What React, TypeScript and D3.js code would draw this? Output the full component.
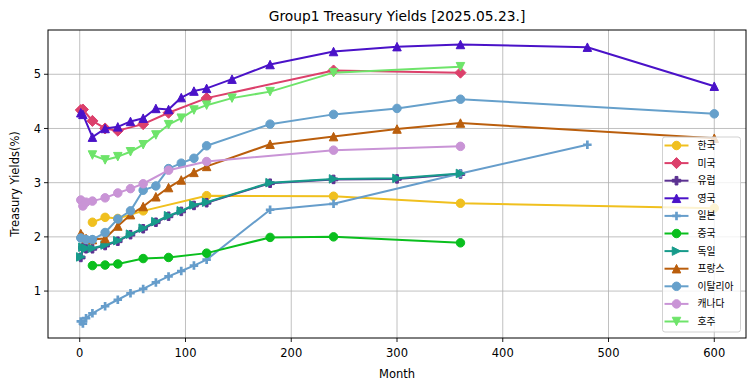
import React from "react";
import * as d3 from "d3";

// figure size and plot box (px)
const W = 755;
const H = 391;
const margin = { top: 30, right: 9, bottom: 53, left: 48 };

// ---- data: maturities in months, yields in % ----
const koreaMonths = [12, 24, 36, 60, 120, 240, 360, 600];
const koreaYields = [2.27, 2.36, 2.34, 2.48, 2.76, 2.75, 2.62, 2.53];

const usMonths = [1, 3, 12, 24, 36, 60, 84, 120, 240, 360];
const usYields = [4.34, 4.35, 4.14, 4.0, 3.96, 4.08, 4.29, 4.56, 5.07, 5.03];

const euMonths = [1, 3, 6, 12, 24, 36, 48, 60, 72, 84, 96, 108, 120, 180, 240, 300, 360];
const euYields = [1.62, 1.8, 1.78, 1.78, 1.84, 1.92, 2.04, 2.15, 2.27, 2.38, 2.47, 2.58, 2.63, 2.99, 3.06, 3.07, 3.16];

const ukMonths = [1, 3, 12, 24, 36, 48, 60, 72, 84, 96, 108, 120, 144, 180, 240, 300, 360, 480, 600];
const ukYields = [4.29, 4.26, 3.84, 4.0, 4.03, 4.13, 4.19, 4.37, 4.35, 4.57, 4.69, 4.74, 4.91, 5.18, 5.42, 5.51, 5.55, 5.5, 4.78];

const japanMonths = [1, 3, 6, 12, 24, 36, 48, 60, 72, 84, 96, 108, 120, 180, 240, 360, 480];
const japanYields = [0.44, 0.4, 0.5, 0.59, 0.72, 0.84, 0.96, 1.04, 1.16, 1.27, 1.37, 1.47, 1.58, 2.5, 2.61, 3.17, 3.7];

const chinaMonths = [12, 24, 36, 60, 84, 120, 180, 240, 360];
const chinaYields = [1.47, 1.48, 1.5, 1.6, 1.62, 1.7, 1.99, 2.0, 1.89];

const germanyMonths = [1, 3, 6, 12, 24, 36, 48, 60, 72, 84, 96, 108, 120, 180, 240, 300, 360];
const germanyYields = [1.63, 1.81, 1.79, 1.79, 1.85, 1.93, 2.05, 2.16, 2.28, 2.39, 2.48, 2.59, 2.64, 3.0, 3.07, 3.08, 3.17];

const franceMonths = [1, 3, 6, 12, 24, 36, 48, 60, 72, 84, 96, 108, 120, 180, 240, 300, 360, 600];
const franceYields = [2.06, 2.0, 1.97, 1.95, 1.97, 2.2, 2.41, 2.56, 2.74, 2.91, 3.05, 3.19, 3.3, 3.71, 3.85, 3.99, 4.1, 3.82];

const italyMonths = [1, 6, 12, 24, 36, 48, 60, 72, 84, 96, 108, 120, 180, 240, 300, 360, 600];
const italyYields = [1.98, 1.95, 1.95, 2.08, 2.33, 2.48, 2.86, 2.94, 3.26, 3.36, 3.45, 3.68, 4.08, 4.26, 4.37, 4.54, 4.27];

const canadaMonths = [1, 3, 6, 12, 24, 36, 48, 60, 84, 120, 240, 360];
const canadaYields = [2.68, 2.57, 2.64, 2.66, 2.72, 2.81, 2.89, 2.98, 3.23, 3.39, 3.6, 3.67];

const australiaMonths = [12, 24, 36, 48, 60, 72, 84, 96, 108, 120, 144, 180, 240, 360];
const australiaYields = [3.51, 3.42, 3.48, 3.57, 3.7, 3.88, 4.07, 4.19, 4.34, 4.43, 4.56, 4.68, 5.03, 5.14];

const xTicks = [0, 100, 200, 300, 400, 500, 600];
const yTicks = [1, 2, 3, 4, 5];

const series = [
  { name: "한국", months: koreaMonths, values: koreaYields, color: "#f0c01f", marker: "o" },
  { name: "미국", months: usMonths, values: usYields, color: "#dc406b", marker: "D" },
  { name: "유럽", months: euMonths, values: euYields, color: "#5b3191", marker: "P" },
  { name: "영국", months: ukMonths, values: ukYields, color: "#4a12c8", marker: "^" },
  { name: "일본", months: japanMonths, values: japanYields, color: "#669dcb", marker: "+" },
  { name: "중국", months: chinaMonths, values: chinaYields, color: "#0abf1e", marker: "o" },
  { name: "독일", months: germanyMonths, values: germanyYields, color: "#179b8b", marker: ">" },
  { name: "프랑스", months: franceMonths, values: franceYields, color: "#ba5e0c", marker: "^" },
  { name: "이탈리아", months: italyMonths, values: italyYields, color: "#66a0cb", marker: "o" },
  { name: "캐나다", months: canadaMonths, values: canadaYields, color: "#c994d6", marker: "o" },
  { name: "호주", months: australiaMonths, values: australiaYields, color: "#6ee46a", marker: "v" },
];

const FONT = "'DejaVu Sans', 'Noto Sans CJK KR', sans-serif";
const MS = 8.5; // marker size px

function Marker({ type, color, x, y }: { type: string; color: string; x: number; y: number }) {
  const h = MS / 2;
  const common = { fill: color, stroke: color, strokeWidth: 1 };
  if (type === "o") return <circle cx={x} cy={y} r={h} {...common} />;
  if (type === "D") {
    const d = h * 1.3;
    return <path d={`M${x},${y - d}L${x + d},${y}L${x},${y + d}L${x - d},${y}Z`} {...common} />;
  }
  if (type === "^")
    return <path d={`M${x},${y - h}L${x + h},${y + h}L${x - h},${y + h}Z`} {...common} />;
  if (type === "v")
    return <path d={`M${x},${y + h}L${x + h},${y - h}L${x - h},${y - h}Z`} {...common} />;
  if (type === ">")
    return <path d={`M${x + h},${y}L${x - h},${y - h}L${x - h},${y + h}Z`} {...common} />;
  if (type === "P") {
    const a = h / 3;
    const p = [
      [-a, -h], [a, -h], [a, -a], [h, -a], [h, a], [a, a],
      [a, h], [-a, h], [-a, a], [-h, a], [-h, -a], [-a, -a],
    ];
    return <path d={"M" + p.map(([dx, dy]) => `${x + dx},${y + dy}`).join("L") + "Z"} {...common} />;
  }
  // "+"
  return (
    <path
      d={`M${x - h},${y}L${x + h},${y}M${x},${y - h}L${x},${y + h}`}
      stroke={color}
      strokeWidth={2.7}
      fill="none"
    />
  );
}

export default function App() {
  const x = d3
    .scaleLinear()
    .domain([-30, 630])
    .range([margin.left, W - margin.right]);
  const y = d3
    .scaleLinear()
    .domain([0.134, 5.817])
    .range([H - margin.bottom, margin.top]);

  const line = d3
    .line<[number, number]>()
    .x((d) => x(d[0]))
    .y((d) => y(d[1]));

  const left = margin.left;
  const right = W - margin.right;
  const top = margin.top;
  const bottom = H - margin.bottom;

  // legend box
  const lgW = 78;
  const lgRow = 17.6;
  const lgH = (series.length - 1) * lgRow + 19;
  const lgX = right - 5.5 - lgW;
  const lgY = bottom - 6 - lgH;

  return (
    <svg
      width={W}
      height={H}
      style={{ position: "absolute", left: 0, top: 0, background: "#fff" }}
      fontFamily={FONT}
    >
      <rect x={0} y={0} width={W} height={H} fill="#fff" />

      {/* grid */}
      {xTicks.map((t) => (
        <line key={"gx" + t} x1={x(t)} x2={x(t)} y1={top} y2={bottom} stroke="#b0b0b0" strokeWidth={0.8} />
      ))}
      {yTicks.map((t) => (
        <line key={"gy" + t} x1={left} x2={right} y1={y(t)} y2={y(t)} stroke="#b0b0b0" strokeWidth={0.8} />
      ))}

      {/* series */}
      {series.map((s) => {
        const pts = s.months.map((m, i) => [m, s.values[i]] as [number, number]);
        return (
          <g key={s.name}>
            <path d={line(pts) || ""} fill="none" stroke={s.color} strokeWidth={2} strokeLinejoin="round" />
            {pts.map((p, i) => (
              <Marker key={i} type={s.marker} color={s.color} x={x(p[0])} y={y(p[1])} />
            ))}
          </g>
        );
      })}

      {/* frame */}
      <rect x={left} y={top} width={right - left} height={bottom - top} fill="none" stroke="#000" strokeWidth={1} />

      {/* x axis */}
      {xTicks.map((t) => (
        <g key={"xt" + t}>
          <line x1={x(t)} x2={x(t)} y1={bottom} y2={bottom + 4} stroke="#000" strokeWidth={0.9} />
          <text x={x(t)} y={bottom + 18.5} textAnchor="middle" fontSize={11.5} fill="#000">
            {t}
          </text>
        </g>
      ))}
      {/* y axis */}
      {yTicks.map((t) => (
        <g key={"yt" + t}>
          <line x1={left - 4} x2={left} y1={y(t)} y2={y(t)} stroke="#000" strokeWidth={0.9} />
          <text x={left - 7} y={y(t)} dy="0.36em" textAnchor="end" fontSize={11.5} fill="#000">
            {t}
          </text>
        </g>
      ))}

      <text x={(left + right) / 2} y={378} textAnchor="middle" fontSize={11.5} fill="#000">
        Month
      </text>
      <text
        transform={`translate(19,${(top + bottom) / 2}) rotate(-90)`}
        textAnchor="middle"
        fontSize={11.5}
        fill="#000"
      >
        Treasury Yields(%)
      </text>
      <text x={(left + right) / 2} y={21} textAnchor="middle" fontSize={13.8} fill="#000">
        Group1 Treasury Yields [2025.05.23.]
      </text>

      {/* legend */}
      <rect x={lgX} y={lgY} width={lgW} height={lgH} rx={2.5} fill="#fff" fillOpacity={0.8} stroke="#cccccc" strokeWidth={0.9} />
      {series.map((s, i) => {
        const cy = lgY + 8.5 + i * lgRow;
        return (
          <g key={"lg" + s.name}>
            <line x1={lgX + 2} x2={lgX + 26} y1={cy} y2={cy} stroke={s.color} strokeWidth={2} />
            <Marker type={s.marker} color={s.color} x={lgX + 14} y={cy} />
            <text x={lgX + 35} y={cy} dy="0.36em" fontSize={9.8} fill="#000">
              {s.name}
            </text>
          </g>
        );
      })}
    </svg>
  );
}
